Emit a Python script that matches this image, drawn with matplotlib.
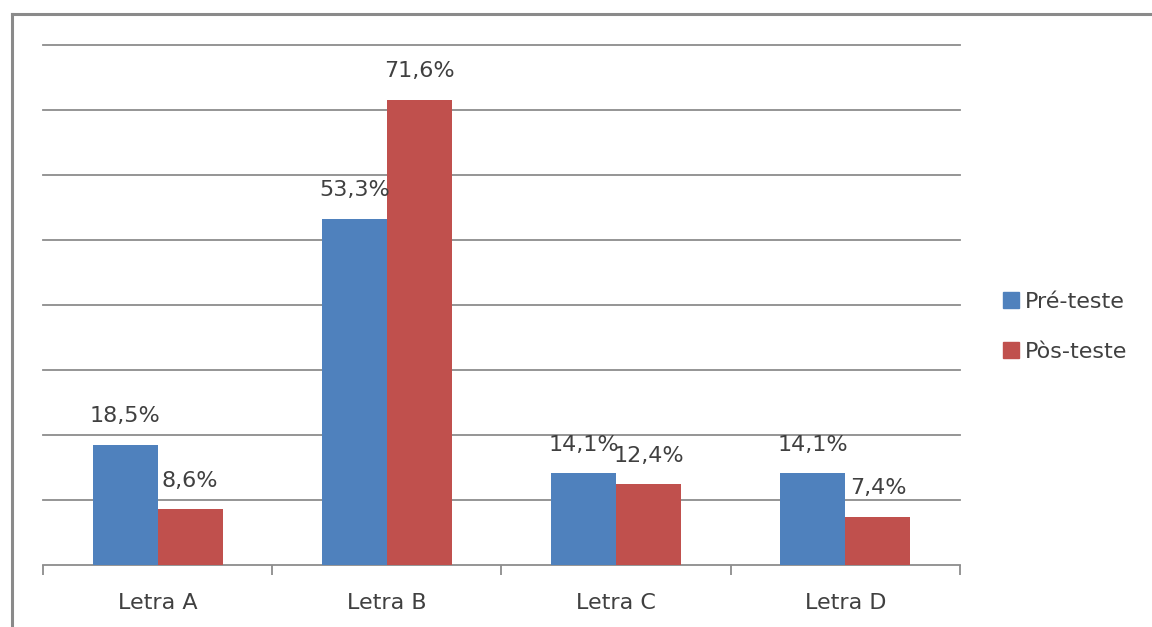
import matplotlib
matplotlib.use('Agg')
import matplotlib.pyplot as plt
from matplotlib.lines import Line2D
from matplotlib.patches import Patch
import numpy as np

# Data
categories = ['Letra A', 'Letra B', 'Letra C', 'Letra D']
pre_teste = [18.5, 53.3, 14.1, 14.1]
pos_teste = [8.6, 71.6, 12.4, 7.4]
series_names = ['Pré-teste', 'Pòs-teste']

blue = '#4F81BD'
red = '#C0504D'
grid_gray = '#8C8C8C'
text_col = '#404040'
fs = 16

plt.rcParams['font.family'] = ['DejaVu Sans']

fig = plt.figure(figsize=(11.52, 6.27), dpi=100)
ax = fig.add_axes([43/1152, 62/627, 917/1152, 520/627])

x = np.arange(len(categories))
w = 0.284
b1 = ax.bar(x - w/2, pre_teste, w, color=blue, zorder=3)
b2 = ax.bar(x + w/2, pos_teste, w, color=red, zorder=3)

for bars, vals in [(b1, pre_teste), (b2, pos_teste)]:
    for rect, v in zip(bars, vals):
        ax.annotate(f'{v:.1f}%'.replace('.', ','),
                    (rect.get_x() + rect.get_width()/2, v),
                    xytext=(0, 20.5), textcoords='offset points',
                    ha='center', va='center', fontsize=fs, color=text_col, zorder=4)

ax.set_xlim(-0.5, len(categories) - 0.5)
ax.set_ylim(0, 80)
ax.set_yticks(np.arange(10, 81, 10))
ax.yaxis.grid(True, color=grid_gray, linewidth=1.3, zorder=0)
ax.tick_params(axis='y', left=False, labelleft=False)
for gl in ax.get_ygridlines():
    gl.set_clip_on(False)

ax.set_xticks(x)
ax.set_xticklabels(categories, fontsize=fs, color=text_col)
ax.set_xticks(np.arange(-0.5, len(categories), 1), minor=True)
ax.tick_params(axis='x', which='major', length=0, pad=20)
ax.tick_params(axis='x', which='minor', length=7, width=1.3, color=grid_gray, direction='out')

for s in ['top', 'right', 'left']:
    ax.spines[s].set_visible(False)
ax.spines['bottom'].set_color(grid_gray)
ax.spines['bottom'].set_linewidth(1.3)

handles = [Patch(color=blue), Patch(color=red)]
fig.legend(handles, series_names, loc='center left', bbox_to_anchor=(0.853, 0.479),
           frameon=False, fontsize=fs, handlelength=0.72, handleheight=0.72,
           handletextpad=0.3, labelspacing=1.35, labelcolor=text_col)

# outer chart frame
fig.add_artist(Line2D([12/1152, 12/1152], [0, 1 - 14/627], color='#8A8A8A', linewidth=2.2))
fig.add_artist(Line2D([12/1152, 1], [1 - 14/627, 1 - 14/627], color='#8A8A8A', linewidth=2.2))

fig.savefig('out.png', dpi=100)
